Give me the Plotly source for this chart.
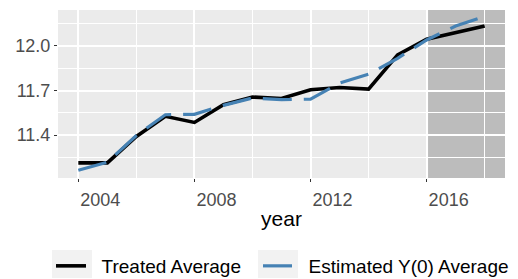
import plotly.graph_objects as go

years = list(range(2004, 2019))
treated = [11.213, 11.213, 11.391, 11.526, 11.485, 11.604, 11.656, 11.646,
           11.705, 11.720, 11.709, 11.940, 12.045, 12.090, 12.134]
estimated = [11.163, 11.217, 11.397, 11.537, 11.540, 11.600, 11.650, 11.638,
             11.642, 11.750, 11.810, 11.917, 12.040, 12.134, 12.200]
x_ticks = [2004, 2008, 2012, 2016]
y_ticks = [11.4, 11.7, 12.0]
y_tick_labels = ["11.4", "11.7", "12.0"]
shade_start = 2016.05

FONT = "Liberation Sans, Arial, sans-serif"

fig = go.Figure()
fig.add_trace(go.Scatter(x=years, y=treated, mode="lines", name="\u00a0\u00a0Treated Average",
                         line=dict(color="black", width=3.6), legend="legend"))
fig.add_trace(go.Scatter(x=years, y=estimated, mode="lines", name="\u00a0\u00a0Estimated Y(0) Average",
                         line=dict(color="#4682B4", width=3.2, dash="29px,12px"), legend="legend2"))

xr = [2003.3, 2018.7]
fig.add_shape(type="rect", xref="x", yref="paper", x0=shade_start, x1=xr[1], y0=0, y1=1,
              fillcolor="rgba(0,0,0,0.2)", line_width=0, layer="between")

# light legend-key backgrounds (ggplot legend.key)
for kx0, kx1 in [(-0.0134, 0.0761), (0.4474, 0.5369)]:
    fig.add_shape(type="rect", xref="paper", yref="paper", x0=kx0, x1=kx1, y0=-0.595, y1=-0.4286,
                  fillcolor="#F2F2F2", line_width=0, layer="below")

legend_common = dict(orientation="h", xref="container", yref="container",
                     xanchor="left", y=0.048, yanchor="middle",
                     font=dict(size=19, color="black"), bgcolor="rgba(0,0,0,0)")

# page body adds an 8px offset; figure is sized so the panel lands where the reference has it
fig.update_layout(
    width=510, height=271,
    margin=dict(l=50, r=13, t=2, b=101, autoexpand=False),
    paper_bgcolor="white", plot_bgcolor="#EBEBEB",
    font=dict(family=FONT, color="black"),
    showlegend=True,
    legend=dict(x=0.0843, **legend_common),
    legend2=dict(x=0.4902, **legend_common),
)
fig.update_xaxes(range=xr, tickvals=x_ticks, ticktext=[str(v) for v in x_ticks],
                 showgrid=True, gridcolor="white", gridwidth=1.8,
                 minor=dict(dtick=2, tick0=2006, showgrid=True, gridcolor="white", gridwidth=0.9),
                 ticks="outside", ticklen=3, tickcolor="#333333", tickwidth=1,
                 tickfont=dict(size=18, color="#4D4D4D"), ticklabelshift=22, ticklabelstandoff=2,
                 title=dict(text="year", font=dict(size=21, color="black"), standoff=2),
                 zeroline=False, showline=False, automargin=False)
fig.update_yaxes(range=[11.111, 12.242], tickvals=y_ticks, ticktext=y_tick_labels,
                 showgrid=True, gridcolor="white", gridwidth=1.8,
                 minor=dict(dtick=0.3, tick0=11.25, showgrid=True, gridcolor="white", gridwidth=0.9),
                 ticks="outside", ticklen=3, tickcolor="#333333", tickwidth=1,
                 tickfont=dict(size=18, color="#4D4D4D"),
                 zeroline=False, showline=False, automargin=False)

fig.write_html("out.html")
